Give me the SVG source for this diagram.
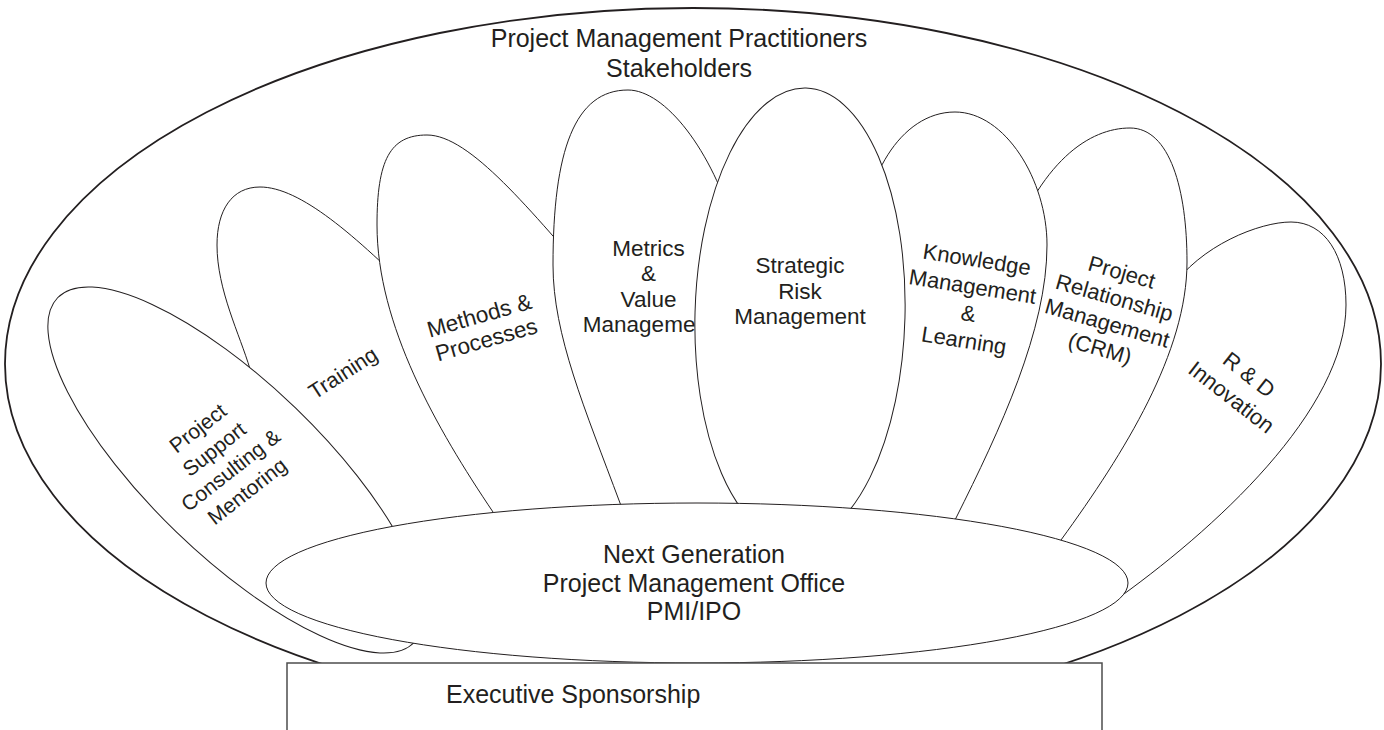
<svg xmlns="http://www.w3.org/2000/svg" width="1384" height="730" viewBox="0 0 1384 730">
  <style>
    .line { fill: #ffffff; stroke: #231f20; stroke-width: 1; }
    .outer { fill: #ffffff; stroke: #231f20; stroke-width: 1.8; }
    .box { fill: #ffffff; stroke: #4d4d4d; stroke-width: 1.5; }
    text { font-family: "Liberation Sans", Arial, sans-serif; fill: #231f20; text-anchor: middle; }
    .big { font-size: 25px; }
    .lbl { font-size: 22.5px; }
    .lbl22 { font-size: 22px; }
    .lbl21 { font-size: 21px; }
  </style>

  <!-- outer stakeholder ring with its heading -->
  <g id="stakeholders">
    <ellipse class="outer" cx="693" cy="364" rx="688" ry="356"/>
    <text class="big" x="679" y="47">Project Management Practitioners</text>
    <text class="big" x="679" y="77">Stakeholders</text>
  </g>

  <!-- petals, back to front -->
  <g id="training">
    <path class="line" d="M217,245 C217,210 232,187 260,187 C300,187 355,235 420,300 C480,360 520,450 500,560 C480,610 400,600 330,520 C300,480 262,410 250,369 C240,335 217,290 217,245 Z"/>
    <text class="lbl21" transform="translate(344,374.5) rotate(-33)" y="5.5" style="font-size:21.5px">Training</text>
  </g>

  <g id="methods">
    <path class="line" d="M493,512 C437,429 377,325 377,225 C377,160 390,135 427,135 C470,135 530,210 600,290 C650,350 650,480 600,560 C570,600 520,560 493,512 Z"/>
    <g transform="translate(482.75,327.25) rotate(-16)">
      <text class="lbl" y="-4.6">Methods &amp;</text>
      <text class="lbl" y="20.6">Processes</text>
    </g>
  </g>

  <g id="metrics">
    <path class="line" d="M620,503 C585,409 553,335 553,265 C553,150 575,90 628,90 C665,90 712,150 735,230 C760,330 770,450 740,530 C700,570 640,560 620,503 Z"/>
    <text class="lbl" x="648.5" y="255.5">Metrics</text>
    <text class="lbl" x="648.5" y="281">&amp;</text>
    <text class="lbl" x="648.5" y="306.5">Value</text>
    <text class="lbl" x="648.5" y="332">Management</text>
  </g>

  <g id="project-support">
    <ellipse class="line" cx="236" cy="470" rx="86" ry="248" transform="rotate(-46 236 470)"/>
    <g transform="translate(223.5,461) rotate(-38)">
      <text class="lbl21" y="-34.5">Project</text>
      <text class="lbl21" y="-7.8">Support</text>
      <text class="lbl21" y="18.9">Consulting &amp;</text>
      <text class="lbl21" y="45.6">Mentoring</text>
    </g>
  </g>

  <g id="rnd">
    <path class="line" d="M1110,604 C1215,530 1346,410 1346,305 C1346,255 1325,222 1291,222 C1260,222 1200,245 1170,290 C1150,330 1100,450 1050,550 C1045,595 1090,612 1110,604 Z"/>
    <g transform="translate(1240.4,385.8) rotate(38)">
      <text class="lbl22" y="-6.5">R &amp; D</text>
      <text class="lbl22" y="22">Innovation</text>
    </g>
  </g>

  <g id="crm">
    <path class="line" d="M1061,540 C1125,452 1187,352 1187,262 C1187,190 1170,128 1130,128 C1090,128 1040,160 1005,260 C1000,330 980,440 930,540 C950,600 1040,590 1061,540 Z"/>
    <g transform="translate(1110.5,311.4) rotate(16)">
      <text class="lbl22" y="-33.2">Project</text>
      <text class="lbl22" y="-6.8">Relationship</text>
      <text class="lbl22" y="19.6">Management</text>
      <text class="lbl22" y="46">(CRM)</text>
    </g>
  </g>

  <g id="knowledge">
    <path class="line" d="M862,250 C862,180 900,112 955,112 C1005,112 1047,180 1047,245 C1047,330 1000,430 956,518 C930,570 915,585 895,585 C850,590 835,500 845,420 C855,340 862,300 862,250 Z"/>
    <g transform="translate(970,303) rotate(9)">
      <text class="lbl22" y="-36.5">Knowledge</text>
      <text class="lbl22" y="-9.2">Management</text>
      <text class="lbl22" y="18.1">&amp;</text>
      <text class="lbl22" y="45.4">Learning</text>
    </g>
  </g>

  <g id="strategic-risk">
    <ellipse class="line" cx="800" cy="315" rx="105" ry="227" transform="rotate(1.5 800 315)"/>
    <text class="lbl" x="800" y="273">Strategic</text>
    <text class="lbl" x="800" y="298.5">Risk</text>
    <text class="lbl" x="800" y="324">Management</text>
  </g>

  <!-- central office -->
  <g id="pmo">
    <ellipse class="line" cx="697" cy="583" rx="431" ry="80"/>
    <text class="big" x="694" y="563">Next Generation</text>
    <text class="big" x="694" y="592">Project Management Office</text>
    <text class="big" x="694" y="620">PMI/IPO</text>
  </g>

  <!-- base -->
  <g id="executive-sponsorship">
    <rect class="box" x="287" y="663" width="815" height="80"/>
    <text class="big" x="446" y="703" style="text-anchor:start">Executive Sponsorship</text>
  </g>
</svg>
